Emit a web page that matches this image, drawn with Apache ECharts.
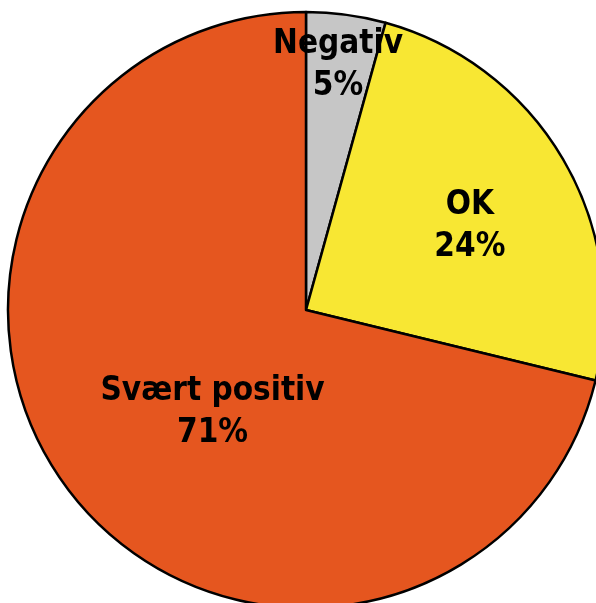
<!DOCTYPE html>
<html><head><meta charset="utf-8">
<script src="https://cdn.jsdelivr.net/npm/echarts@6/dist/echarts.min.js"></script>
<style>html,body{margin:0;padding:0;background:#fff}#c{width:596px;height:603px}</style>
</head><body><div id="c"></div>
<script>
const categories = ['Negativ', 'OK', 'Svært positiv'];
// slice sizes as drawn in the picture (percent)
const values = [4.3, 24.5, 71.2];
// percentages as printed in the labels
const labelPercents = [5, 24, 71];
const colors = ['#c6c6c6', '#f8e733', '#e5561f'];
// label placement: [radius fraction, angle in degrees clockwise from top]
const labelPlace = [[0.835, 7.4], [0.62, 62.5], [0.46, 223]];

const cx = 306, cy = 310, R = 298;
const chart = echarts.init(document.getElementById('c'));
chart.setOption({
  animation: false,
  series: [{
    type: 'pie',
    center: [cx, cy],
    radius: R,
    startAngle: 90,
    clockwise: true,
    data: categories.map((n, i) => ({ name: n, value: values[i], itemStyle: { color: colors[i] } })),
    itemStyle: { borderColor: '#000', borderWidth: 2.5 },
    label: {
      position: 'inside',
      formatter: p => p.name + '\n' + labelPercents[p.dataIndex] + '%',
      fontFamily: '"DejaVu Sans Condensed", "DejaVu Sans"',
      fontWeight: 'bold',
      fontSize: 33,
      lineHeight: 42,
      color: '#000'
    },
    labelLayout: p => {
      const [f, a] = labelPlace[p.dataIndex];
      const rad = a * Math.PI / 180;
      return { x: cx + f * R * Math.sin(rad), y: cy - f * R * Math.cos(rad) + 2, align: 'center', verticalAlign: 'middle' };
    },
    emphasis: { disabled: true }
  }]
});
</script></body></html>
